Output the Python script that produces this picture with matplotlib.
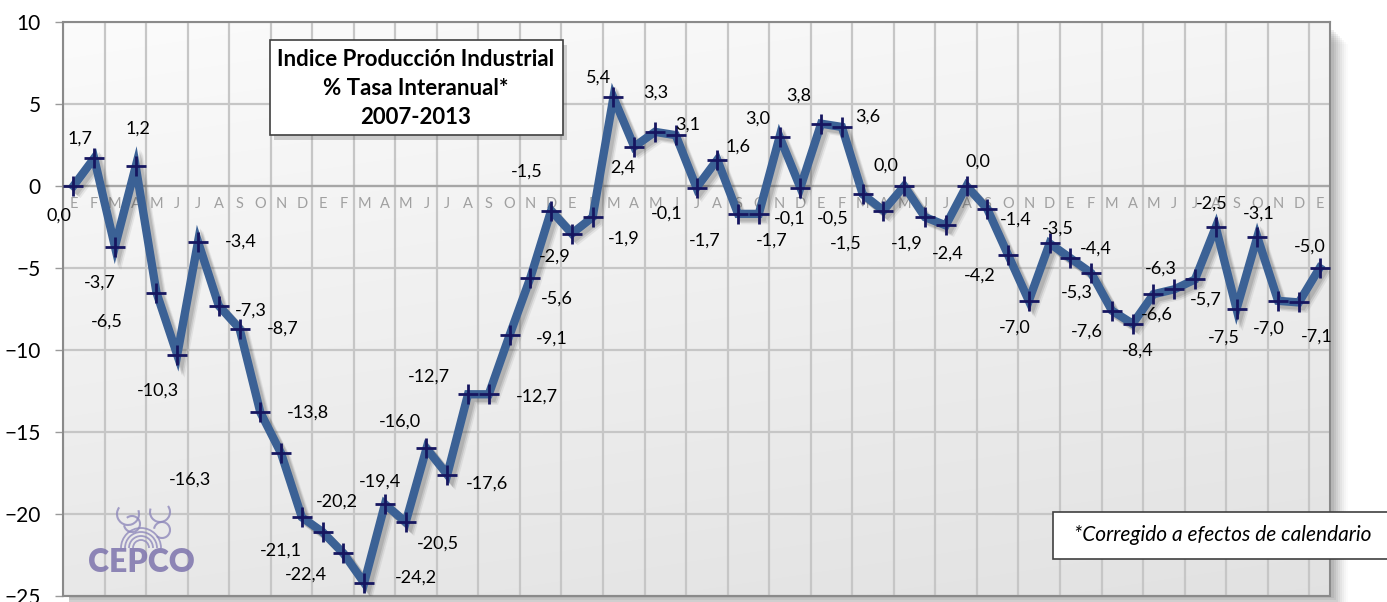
import numpy as np
import matplotlib.pyplot as plt
import matplotlib.patheffects as pe
from matplotlib.patches import Rectangle, Arc

plt.rcParams['font.family'] = ['Lato', 'DejaVu Sans']

W, H = 1387, 602

# month initials along the category axis (Spanish)
months = ['E', 'F', 'M', 'A', 'M', 'J', 'J', 'A', 'S', 'O', 'N', 'D']
month_labels = months * 5 + ['E']

# year-on-year rate (%), one list per year, Jan..Dec
ipi_y1 = [0.0, 1.7, -3.7, 1.2, -6.5, -10.3, -3.4, -7.3, -8.7, -13.8, -16.3, -20.2]
ipi_y2 = [-21.1, -22.4, -24.2, -19.4, -20.5, -16.0, -17.6, -12.7, -12.7, -9.1, -5.6, -1.5]
ipi_y3 = [-2.9, -1.9, 5.4, 2.4, 3.3, 3.1, -0.1, 1.6, -1.7, -1.7, 3.0, -0.1]
ipi_y4 = [3.8, 3.6, -0.5, -1.5, 0.0, -1.9, -2.4, 0.0, -1.4, -4.2, -7.0, -3.5]
ipi_y5 = [-4.4, -5.3, -7.6, -8.4, -6.6, -6.3, -5.7, -2.5, -7.5, -3.1, -7.0, -7.1]
ipi_y6 = [-5.0]
values = ipi_y1 + ipi_y2 + ipi_y3 + ipi_y4 + ipi_y5 + ipi_y6

# where each value label sits relative to its point (pixels: right, down)
label_offsets = [
    (-14, 30), (-14, -19), (-15, 36), (2, -38), (-50, 29), (-19, 36),
    (43, 0), (32, 5), (43, 0), (48, 0), (-91, 26), (35, -16),
    (-42, 19), (-37, 21), (52, -5), (-5, -23), (32, 21), (-27, -27),
    (40, 9), (-39, -18), (48, 2), (42, 3), (26, 21), (-24, -39),
    (-17, 23), (31, 21), (-15, -20), (-11, 21), (1, -39), (12, -11),
    (-30, 26), (21, -13), (-33, 27), (13, 27), (-22, -18), (-11, 31),
    (-22, -28), (26, -10), (-30, 24), (-38, 33), (-18, -20), (-18, 26),
    (2, 28), (11, -24), (28, 11), (-28, 21), (-14, 27), (8, -15),
    (25, -10), (-14, 20), (-25, 21), (5, 27), (3, 20), (-13, -21),
    (11, 20), (-4, -23), (-13, 29), (1, -23), (-9, 28), (18, 34),
    (-10, -21),
]


def fx(px):
    return px / W


def fy(py):
    return 1 - py / H


fig = plt.figure(figsize=(W / 100, H / 100), dpi=100)

# plot area in pixels
L, R, T, B = 63, 1330, 22, 596

# soft drop shadow behind the plot area
for k, a in zip(range(16, 0, -2), [0.02, 0.03, 0.04, 0.05, 0.06, 0.07, 0.08, 0.09]):
    fig.patches.append(Rectangle((fx(L + 6), fy(B + k)), (R - L + k - 4) / W, (B - T - 6) / H,
                                 transform=fig.transFigure, facecolor='#404040',
                                 edgecolor='none', alpha=a, zorder=-5))

ax = fig.add_axes([fx(L), fy(B), (R - L) / W, (B - T) / H])
ax.set_zorder(1)

# light grey gradient background
gy = np.linspace(0, 1, 200)[:, None]
gx = np.linspace(0, 1, 200)[None, :]
shade = 0.985 - 0.10 * (0.75 * gy + 0.25 * gx)
grad = np.dstack([shade, shade, shade])
ax.imshow(grad, extent=[0, 1, 0, 1], transform=ax.transAxes, aspect='auto',
          zorder=0, interpolation='bilinear')

x = np.arange(len(values))
ax.set_xlim(-0.5, len(values) - 0.5)
ax.set_ylim(-25, 10)

ax.set_xticks(np.arange(-0.5, len(values), 2))
ax.set_yticks(np.arange(-25, 11, 5))
ax.tick_params(axis='x', length=0, labelbottom=False)
ax.tick_params(axis='y', length=6, width=1, color='#9a9a9a', pad=10, labelsize=15)
ax.grid(True, color='#c6c6c6', lw=1.6, zorder=1)
ax.set_axisbelow(True)
for s in ax.spines.values():
    s.set_color('#8a8a8a')
    s.set_linewidth(1.5)
ax.axhline(0, color='#a6a6a6', lw=1.6, zorder=1.5)

for i, m in enumerate(month_labels):
    ax.annotate(m, (i, 0), xytext=(0, -18), textcoords='offset pixels',
                ha='center', va='center', color='#a0a0a0', fontsize=10.5, zorder=2)

# thick series line with a blurred-looking drop shadow
shadow = [pe.SimpleLineShadow(offset=(o, -o), shadow_color='#303030', alpha=al)
          for o, al in ((4.5, 0.08), (3.5, 0.12), (2.5, 0.14))]
ax.plot(x, values, color='#3b6195', lw=6, solid_joinstyle='miter', zorder=3,
        path_effects=shadow + [pe.Normal()])
ax.plot(x, values, ls='none', marker='+', ms=15, mew=2, color='#161660', zorder=4)

for i, (v, (dx, dy)) in enumerate(zip(values, label_offsets)):
    ax.annotate(f'{v:.1f}'.replace('.', ','), (i, v), xytext=(dx, -dy),
                textcoords='offset pixels', ha='center', va='center',
                fontsize=13, color='black', zorder=5, annotation_clip=False)

# title box
bx0, by0, bx1, by1 = 270, 40, 563, 135
fig.patches.append(Rectangle((fx(bx0 + 4), fy(by1 + 5)), (bx1 - bx0) / W, (by1 - by0) / H,
                             transform=fig.transFigure, facecolor='#505050',
                             edgecolor='none', alpha=0.25, zorder=5))
fig.patches.append(Rectangle((fx(bx0), fy(by1)), (bx1 - bx0) / W, (by1 - by0) / H,
                             transform=fig.transFigure, facecolor='white',
                             edgecolor='#404040', lw=1.2, zorder=6))
for txt, yb in zip(['Indice Producción Industrial', '% Tasa Interanual*', '2007-2013'],
                   [66, 95, 124]):
    fig.text(fx(416), fy(yb), txt, ha='center', va='baseline', fontsize=16,
             fontweight='bold', zorder=7)

# footnote box
fig.patches.append(Rectangle((fx(1053), fy(559)), (W - 1053 + 5) / W, (559 - 512) / H,
                             transform=fig.transFigure, facecolor='white',
                             edgecolor='#404040', lw=1.2, zorder=6))
fig.text(fx(1223), fy(535), '*Corregido a efectos de calendario', ha='center',
         va='center', fontsize=15, style='italic', zorder=7)

# CEPCO logo
logo_c = '#7d74ad'
fig.text(fx(141), fy(563), 'CEPCO', ha='center', va='center', fontsize=23,
         fontweight='heavy', color=logo_c, alpha=0.85, zorder=6)
for r in (8, 12, 16, 20):
    fig.patches.append(Arc((fx(141), fy(548)), 2 * r / W, 2 * r / H, theta1=0, theta2=180,
                           transform=fig.transFigure, color='#8f89bb', lw=1.3,
                           alpha=0.8, zorder=6))
for r, cx, cy, t1, t2 in ((11, 128, 514, 120, 400), (10, 160, 512, 140, 420),
                          (8, 132, 524, 200, 470), (8, 162, 530, 250, 520)):
    fig.patches.append(Arc((fx(cx), fy(cy)), 2 * r / W, 2 * r / H, theta1=t1, theta2=t2,
                           transform=fig.transFigure, color='#8f89bb', lw=1.5,
                           alpha=0.8, zorder=6))

fig.savefig('out.png', dpi=100)
